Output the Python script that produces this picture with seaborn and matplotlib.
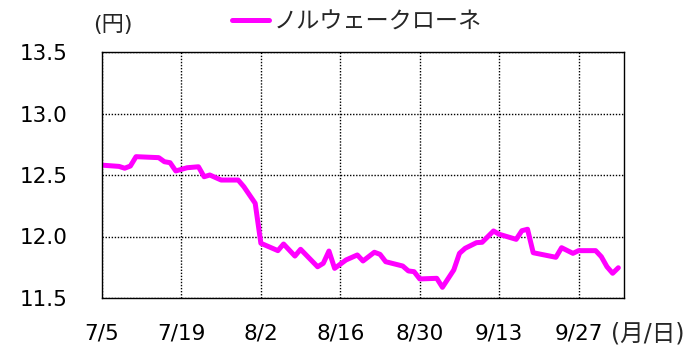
import matplotlib
matplotlib.use("Agg")
import matplotlib.pyplot as plt
import pandas as pd
import seaborn as sns

# Norwegian krone rate in yen, turning points of the daily series
dates = [
    "07-05", "07-08", "07-09", "07-10", "07-11", "07-15", "07-16", "07-17",
    "07-18", "07-20", "07-22", "07-23", "07-24", "07-26", "07-29", "07-30",
    "08-01", "08-02", "08-05", "08-06", "08-08", "08-09", "08-12", "08-13",
    "08-14", "08-15", "08-17", "08-19", "08-20", "08-22", "08-23", "08-24",
    "08-27", "08-28", "08-29", "08-30", "09-02", "09-03", "09-05", "09-06",
    "09-07", "09-09", "09-10", "09-12", "09-13", "09-16", "09-17", "09-18",
    "09-19", "09-23", "09-24", "09-26", "09-27", "09-30", "10-01", "10-02",
    "10-03", "10-04",
]
rates = [
    12.58, 12.57, 12.555, 12.573, 12.649, 12.641, 12.608, 12.600,
    12.533, 12.559, 12.567, 12.486, 12.500, 12.459, 12.459, 12.405,
    12.270, 11.945, 11.885, 11.939, 11.841, 11.896, 11.754, 11.782,
    11.882, 11.741, 11.809, 11.850, 11.801, 11.872, 11.855, 11.795,
    11.760, 11.720, 11.714, 11.655, 11.660, 11.587, 11.728, 11.863,
    11.904, 11.950, 11.953, 12.045, 12.018, 11.977, 12.047, 12.059,
    11.868, 11.831, 11.909, 11.863, 11.885, 11.885, 11.836, 11.754,
    11.701, 11.746,
]
tick_dates = ["07-05", "07-19", "08-02", "08-16", "08-30", "09-13", "09-27"]
tick_labels = ["7/5", "7/19", "8/2", "8/16", "8/30", "9/13", "9/27"]
y_ticks = [11.5, 12.0, 12.5, 13.0, 13.5]
series_name = "ノルウェークローネ"

YEAR = "2021-"
df = pd.DataFrame({
    "date": pd.to_datetime([YEAR + d for d in dates]),
    "rate": rates,
})

sns.set_style("white")
plt.rcParams["font.family"] = ["DejaVu Sans", "Noto Sans CJK JP"]
mixed = ["DejaVu Sans", "Noto Sans CJK JP"]
cjk = ["Noto Sans CJK JP", "DejaVu Sans"]
FS = 15.5

fig = plt.figure(figsize=(6.93, 3.45), dpi=100)
ax = fig.add_axes([102 / 693, 1 - 298 / 345, (624 - 102) / 693, (298 - 52) / 345])

sns.lineplot(data=df, x="date", y="rate", ax=ax, color="#FF00FF",
             linewidth=3.6, label=series_name, solid_joinstyle="round")

ax.set_xlim(pd.Timestamp(YEAR + "07-05"), pd.Timestamp(YEAR + "10-05"))
ax.set_ylim(11.5, 13.5)
ax.set_xticks(pd.to_datetime([YEAR + d for d in tick_dates]))
ax.set_xticklabels(tick_labels)
ax.set_yticks(y_ticks)
ax.set_yticklabels([f"{v:.1f}" for v in y_ticks])
ax.set_xlabel("")
ax.set_ylabel("")

ax.grid(True, color="black", linestyle=(0, (1, 1.2)), linewidth=1.0)
for s in ax.spines.values():
    s.set_color("black")
    s.set_linewidth(1.0)
ax.tick_params(axis="x", direction="in", length=5, width=1, pad=18.5,
               labelsize=FS, colors="black")
ax.tick_params(axis="y", direction="in", length=5, width=1, pad=25,
               labelsize=FS, colors="black")

fig.text(93 / 693, 1 - 25 / 345, "(円)", fontsize=FS + 0.5, va="center", ha="left",
         family=mixed)
fig.text(611 / 693, 1 - 333 / 345, "(月/日)", fontsize=FS + 1.5, va="center",
         ha="left", family=mixed)

ax.legend(loc="center left", bbox_to_anchor=(232 / 693, 1 - 22 / 345),
          bbox_transform=fig.transFigure, frameon=False,
          handlelength=1.6, handletextpad=0.2, borderaxespad=0, borderpad=0,
          prop={"family": cjk, "size": FS + 1.2})

fig.savefig("out.png", dpi=100)
